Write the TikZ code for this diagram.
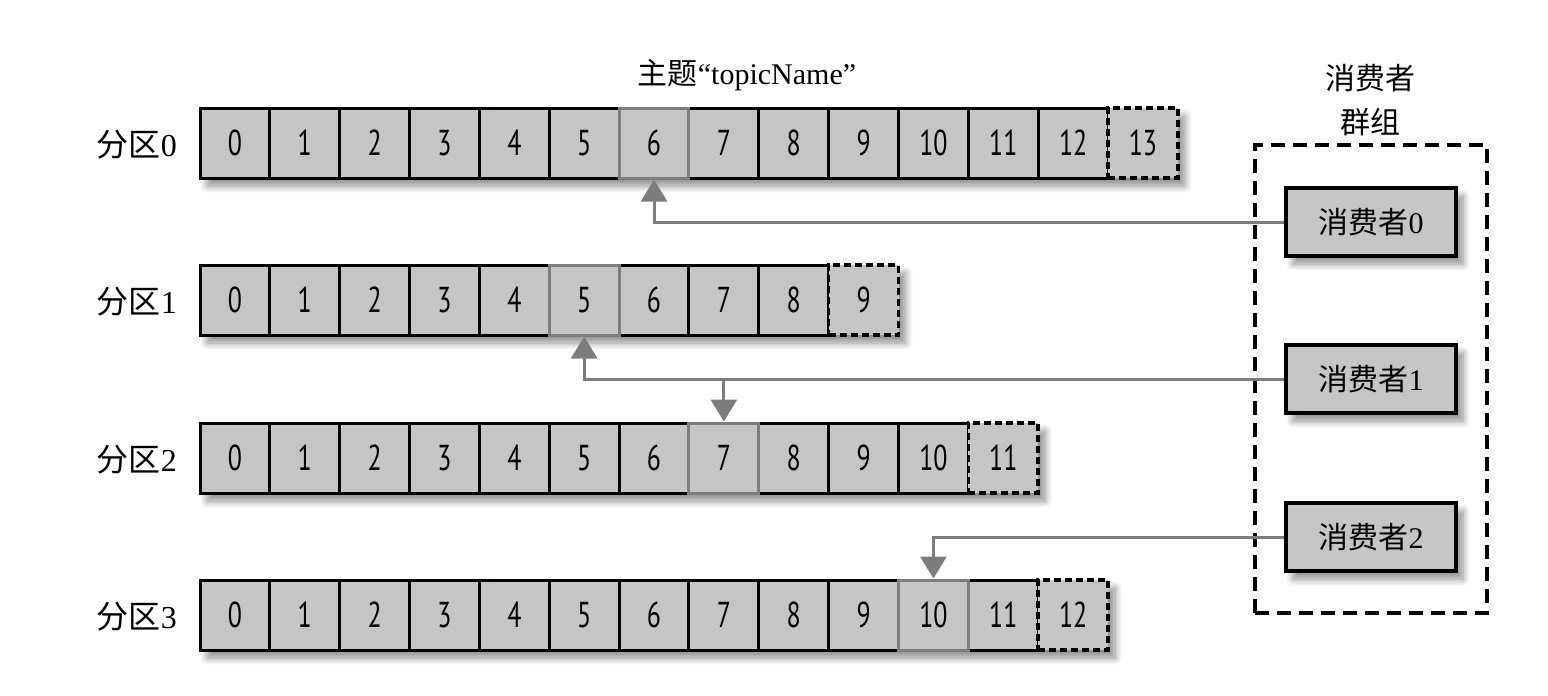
\documentclass[tikz,border=0pt]{standalone}
\usepackage{fontspec}
\setmainfont{Liberation Serif}
\newfontfamily\cjk{Noto Sans CJK SC}
\newfontfamily\cellfont[FakeStretch=0.72]{PT Sans}
\usetikzlibrary{arrows.meta,shadows.blur,calc}
\definecolor{cellgray}{HTML}{C4C5C7}
\definecolor{linegray}{HTML}{7D7D7D}
\begin{document}
\begin{tikzpicture}[x=1pt,y=-1pt,
  cellbox/.style={rectangle, draw=black, fill=cellgray, line width=3pt,
    minimum width=69.85pt, minimum height=70pt, inner sep=0pt,
    font=\cellfont\fontsize{36}{40}\selectfont},
  hicell/.style={cellbox, draw=linegray},
  newcell/.style={cellbox, dash pattern=on 7pt off 4pt, line width=3.5pt},
  rowshadow/.style={fill=white, blur shadow={shadow xshift=7pt, shadow yshift=-8pt, shadow blur radius=7pt, shadow blur steps=12, shadow opacity=45}},
  partlabel/.style={anchor=east, inner sep=0pt, font=\fontsize{32}{36}\selectfont},
  consumer/.style={rectangle, draw=black, fill=cellgray, line width=4pt,
    minimum width=170pt, minimum height=68pt, inner sep=0pt,
    font=\fontsize{30}{36}\selectfont,
    blur shadow={shadow xshift=7pt, shadow yshift=-8pt, shadow blur radius=7pt, shadow blur steps=12, shadow opacity=45}},
  groupbox/.style={rectangle, draw=black, line width=3.5pt, dash pattern=on 14pt off 8pt,
    minimum width=232pt, minimum height=468pt, inner sep=0pt},
  conn/.style={draw=linegray, line width=3pt, -{Triangle[width=26pt,length=22pt]}}
]
\useasboundingbox (0,0) rectangle (1548,696);

% title
\node[font=\fontsize{30}{36}\selectfont] (title) at (747,75) {{\cjk 主题}“topicName”};

% partitions
\foreach \r/\y/\n/\h in {0/143/13/6, 1/300/9/5, 2/458/11/7, 3/615/12/10} {
  \pgfmathtruncatemacro\m{\n-1}
  \path[rowshadow] (200,\y-35) rectangle ({200+69.85*(\n+1)},\y+35);
  \foreach \k in {0,...,\m} {
    \node[cellbox] (p\r-\k) at ({200+69.85*(\k+0.5)},\y) {\k};
  }
  \node[newcell] (p\r-\n) at ({200+69.85*(\n+0.5)},\y) {\n};
  \node[hicell] (p\r-\h) at ({200+69.85*(\h+0.5)},\y) {\h};
  \node[partlabel] (lab\r) at (177,\y+2) {{\cjk 分区}\r};
}

% consumer group
\node[groupbox] (grp) at (1371,379) {};
\node[align=center, font=\cjk\fontsize{30}{44}\selectfont] (grplab) at (1370,100) {消费者\\群组};

% consumers
\node[consumer] (c0) at (1371,222) {{\cjk 消费者}0};
\node[consumer] (c1) at (1371,379) {{\cjk 消费者}1};
\node[consumer] (c2) at (1371,537) {{\cjk 消费者}2};

% connectors
\draw[conn] (c0.west) -| (p0-6.south);
\draw[conn] (c1.west) -| (p1-5.south);
\draw[conn] (c1.west -| p2-7.north) -- (p2-7.north);
\draw[conn] (c2.west) -| (p3-10.north);

\end{tikzpicture}
\end{document}
